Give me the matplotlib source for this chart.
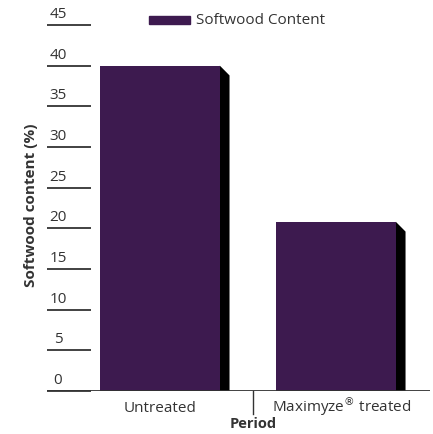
import matplotlib.pyplot as plt
from matplotlib.patches import Polygon
from matplotlib.transforms import ScaledTranslation

categories = ['Untreated', 'Maximyze$^{\u00ae}$ treated']
values = [40, 20.8]
yticks = [0, 5, 10, 15, 20, 25, 30, 35, 40, 45]
series_name = 'Softwood Content'

purple = '#3d1a4f'
grey = '#333333'
plt.rcParams['font.family'] = ['Open Sans', 'DejaVu Sans']

fig = plt.figure(figsize=(4.33, 4.35), dpi=100)
W, H = 433, 435
ax = fig.add_axes([47 / W, 1 - 392 / H, 383 / W, 366 / H])
x0, x1 = -0.642, 1.534
ax.set_xlim(x0, x1)
ax.set_ylim(0, 45)

width = 0.68
dx, dy = 0.055, 1.2
for i, v in enumerate(values):
    ax.bar(i, v, width=width, color=purple, zorder=3)
    r = i + width / 2
    side = Polygon([(r, v), (r + dx, v - dy), (r + dx, 0), (r, 0)],
                   closed=True, facecolor='black', edgecolor='none', zorder=2)
    ax.add_patch(side)

for s in ax.spines.values():
    s.set_visible(False)
ax.set_xticks([])

# y ticks drawn inward as the short lines, labels moved on top of them
ax.set_yticks(yticks)
ax.set_yticklabels([str(t) for t in yticks])
ax.tick_params(axis='y', direction='in', length=31.7, width=1.3, color=grey,
               labelsize=11, labelcolor=grey, pad=0)
shift = ScaledTranslation(11 / 100, 4 / 100, fig.dpi_scale_trans)
for lab in ax.get_yticklabels():
    lab.set_ha('center')
    lab.set_va('bottom')
    lab.set_transform(lab.get_transform() + shift)

ax.axhline(0, color=grey, lw=1.3, zorder=5)
ax.plot([0.528, 0.528], [0, -2.8], color=grey, lw=1, clip_on=False)

label_x = [0, 1.03]
for xi, c in zip(label_x, categories):
    ax.text(xi, -2.45, c, ha='center', va='baseline', fontsize=11, color=grey)

fig.text(253 / W, 1 - 428 / H, 'Period', ha='center', va='baseline',
         fontsize=10.5, fontweight='bold', color=grey)
fig.text(31 / W, 1 - 205 / H, 'Softwood content (%)', rotation=90,
         ha='center', va='center', fontsize=11, fontweight='bold', color=grey)

# legend
fig.patches.append(plt.Rectangle((149 / W, 1 - 25 / H), 41 / W, 8 / H,
                                 transform=fig.transFigure, color=purple))
fig.text(196 / W, 1 - 20 / H, series_name, ha='left', va='center',
         fontsize=11, color=grey)

fig.savefig('out.png', dpi=100)
